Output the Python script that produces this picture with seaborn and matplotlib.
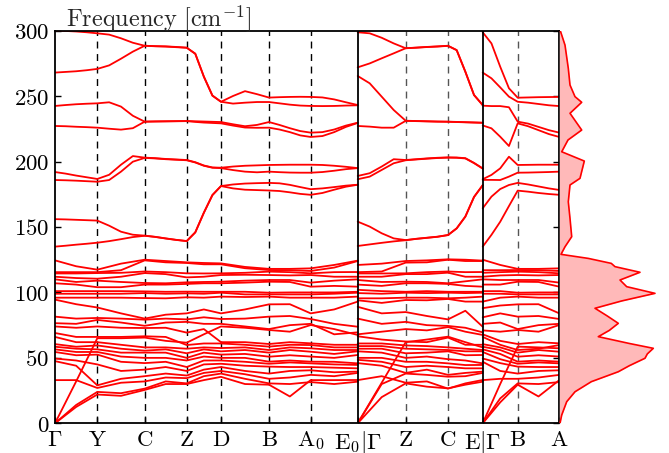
import numpy as np
import pandas as pd
import matplotlib
matplotlib.use("Agg")
import matplotlib.pyplot as plt
import seaborn as sns

# ---------------- k-path (high-symmetry positions) ----------------
kpts_p1 = [0.0, 42.3, 89.7, 131.7, 166.0, 214.0, 255.7, 302.7]   # G Y C Z D B A0 E0
kpts_p2 = [302.7, 350.7, 393.0, 427.7]                            # G Z C E
kpts_p3 = [427.7, 462.7, 504.3]                                   # G B A
tick_pos = [0.0, 42.3, 89.7, 131.7, 166.0, 214.0, 255.7, 302.7,
            350.7, 393.0, 427.7, 462.7, 504.3]
tick_labels = [r"$\Gamma$", r"$\mathrm{Y}$", r"$\mathrm{C}$", r"$\mathrm{Z}$",
               r"$\mathrm{D}$", r"$\mathrm{B}$", r"$\mathrm{A}_0$",
               r"$\mathrm{E}_0|\Gamma\;$", r"$\mathrm{Z}$", r"$\mathrm{C}$",
               r"$\mathrm{E}|\Gamma$", r"$\mathrm{B}$", r"$\mathrm{A}$"]
ytick_vals = [0, 50, 100, 150, 200, 250, 300]

# ---------------- low-frequency bands (points & segment midpoints) ----------------
# panel 1 : G, G-Y, Y, Y-C, C, C-Z, Z, Z-D, D, D-B, B, B-A0, A0, A0-E0, E0
G1  = [0, 0, 0, 33, 47.5, 49.5, 54.5, 56.5, 58.5, 60.5, 66, 69, 74, 76.5, 81.5, 94.5, 96, 99, 101, 107, 110, 112, 114.5, 115.5, 124.5]
GY1 = [12.5, 14, 32, 33, 44, 48, 52, 54.5, 57, 58.5, 62, 66, 73, 76, 80, 91, 96, 99, 101, 106, 108, 111, 114.5, 115.5, 120]
Y1  = [22, 24, 65, 27, 29, 45, 52.5, 54.5, 56.5, 59.5, 62, 66, 74, 79, 80.5, 88.5, 96, 99, 101, 104, 109, 110.5, 114.8, 115.5, 117.4]
YC1 = [21, 23, 65, 31, 34, 40, 47, 51, 54, 57, 60, 66, 73, 77, 80, 84, 96, 99, 101, 104, 108, 112, 115, 117, 122]
C1  = [25.5, 26.5, 65.5, 32, 36, 41, 46, 50, 54, 55.5, 58, 66.5, 72.8, 74.5, 79.2, 80, 95.7, 99.5, 100.8, 106, 107.2, 114.8, 116, 124.5, 125]
CZ1 = [30, 32, 63, 35, 38, 43, 47, 50, 54, 56.5, 58, 66, 73, 77, 80, 83, 95.5, 99, 100.5, 106, 107, 114, 115.5, 123, 124]
Z1  = [30, 30.5, 61.6, 34.5, 36.5, 40, 43, 48, 50, 53.5, 57, 59.8, 69.3, 77.5, 79.4, 84, 96.3, 99.3, 100.6, 106.5, 107.7, 111.5, 114.6, 122.5, 123]
ZD1 = [33, 36, 68, 38.5, 41, 45, 48, 51, 54, 56.5, 58, 61, 72, 76, 81, 87, 96, 99, 100.5, 107, 108, 112, 114.5, 121.5, 122.5]
D1  = [35.5, 38, 74, 40, 43, 45.5, 48, 50, 52.5, 55, 57.5, 61, 62, 76, 79.7, 84, 96.8, 99.8, 100.5, 107, 108.2, 113.3, 114.6, 121.5, 122.2]
DB1 = [30, 34, 73, 37.5, 40, 44, 47, 50, 53, 56, 58, 60, 62, 74, 80, 87, 96.5, 98.5, 100.5, 107.5, 109, 113.5, 115, 118.5, 119.5]
B1  = [29.5, 30.5, 71.3, 34, 38, 43.3, 45.5, 47.1, 50.9, 54, 56, 58.6, 60.6, 72, 81.5, 90.9, 96.8, 98.5, 99.8, 108.2, 109.5, 113.3, 115.9, 117.1, 118]
BA1 = [20.5, 30, 70, 35, 40, 43, 46.5, 48, 52, 56, 58, 60, 62, 75, 82, 91, 96, 98.5, 100, 108, 109.5, 113, 115.5, 117, 118]
A01 = [33, 31.5, 75.1, 37, 40.5, 43, 45.8, 47.1, 51, 54.7, 57.3, 59.8, 61.1, 76, 79.7, 84, 96, 98.5, 100, 104.4, 107.5, 113.3, 114.6, 116.4, 118.4]
AE1 = [33, 30, 72, 36, 39, 42.5, 45, 47, 50, 53, 56, 58, 60, 68, 76, 87, 96, 99, 100, 105, 109, 112, 115.5, 119, 121]
E01 = [33.1, 31.8, 67.5, 38.5, 39.5, 42, 44.6, 45.8, 52.2, 55, 56, 58, 60, 69.5, 73.8, 93, 96.8, 99.8, 100.5, 104.4, 110, 112, 115.6, 124, 124.3]
# panel 2 : G, G-Z, Z, Z-C, C, C-E, E
G2  = [0, 0, 0, 33, 46, 48.5, 50, 55, 57, 59, 61, 66.5, 68, 80, 89, 94, 95.5, 99.5, 102, 106, 109.5, 112, 114.5, 115.5, 121]
GZ2 = [20, 30, 31, 36, 44, 47, 50, 54, 57, 59, 61, 64, 70, 76, 84, 92, 95.5, 99, 101, 105, 108, 112, 114.5, 116, 122]
Z2  = [30.5, 38, 62, 31, 38.5, 43, 47, 50, 53.5, 57, 59.5, 62.5, 72, 77.5, 85, 94.2, 96, 99.8, 100.5, 107, 108.2, 114, 114.6, 122.8, 124]
ZC2 = [28, 37, 64, 32, 41, 44, 47, 51, 54, 56.5, 59, 62, 71, 75, 82, 94, 96, 99.5, 101, 107, 108, 114, 115.5, 123, 124.5]
C2  = [26.7, 35.6, 66.2, 26.5, 37, 43, 45.8, 49, 55, 56, 58, 65.5, 73.5, 74.4, 79.4, 95, 95.5, 99.8, 100.5, 106.5, 107, 115.1, 116, 125, 125.3]
CE2 = [29.5, 36, 62, 30.5, 38.5, 42, 44.5, 48, 52, 55, 57, 60, 70, 73, 86, 93, 96, 99.5, 100.5, 105, 108.5, 112, 115.5, 124, 125]
E2  = [31.8, 38.5, 58, 33.1, 39.5, 42, 44.6, 45.8, 52.2, 55, 56, 60, 67.5, 69.5, 73.8, 93, 96.8, 99.8, 100.5, 104.4, 110, 112, 115.6, 124, 124.3]
# panel 3 : G, G-B, B, B-A, A
G3  = [0, 0, 0, 33, 47, 49.5, 54.5, 56.5, 58.5, 60.5, 66, 68, 71, 76, 81, 88, 93, 99, 101, 106, 110, 112, 115, 117, 125]
GB3 = [16, 19, 30, 34, 40, 46, 49, 53, 56, 58, 60, 63, 70, 77, 84, 90, 96, 99, 101, 106, 109.5, 113, 115.5, 117, 121]
B3  = [29.5, 30.5, 58.6, 34, 38, 43.3, 45.5, 47.1, 50.9, 54, 56, 60.6, 71.3, 72, 81.5, 90.9, 96.8, 98.5, 99.8, 108.2, 109.5, 113.3, 115.9, 117.1, 118]
BA3 = [20.5, 30, 58, 35, 40, 43, 46.5, 48, 52, 56, 57, 62, 70, 75, 82, 91, 96, 98.5, 100, 108, 109.5, 113, 115.5, 117, 118]
A3  = [33, 31.5, 57.3, 37, 40.5, 43, 45.8, 47.1, 51, 54.7, 59.8, 61.1, 75.1, 76, 79.7, 84, 96, 98.5, 100, 104.4, 107.5, 113.3, 114.6, 116.4, 118.4]

# ---------------- high-frequency bands (points & quarter points) ----------------
H1_p1 = [300, 299.8, 299.4, 298.8, 298, 297, 294.2, 290.8, 288.5, 288.2, 288, 287.6, 287, 282.5, 265, 250.5, 245.7, 250.1, 253.8, 251.5, 248.9, 249.2, 249.4, 249.5, 249.4, 249, 247.5, 245.3, 243.2]
H2_p1 = [268, 268.5, 269, 269.8, 270.8, 273.5, 278.6, 284, 288.5, 288.1, 287.9, 287.4, 287, 282.3, 264.8, 250.3, 245.7, 244.3, 245, 245.5, 245.5, 244.5, 243.5, 242.8, 242.5, 242.4, 242.5, 242.8, 243]
H3_p1 = [242.5, 243.2, 243.8, 244.2, 244.5, 245.3, 242, 235, 230.5, 230.7, 230.8, 230.9, 231, 230.8, 230.6, 230.4, 230.2, 228.5, 227, 228, 230.2, 228, 225.5, 223.3, 222.1, 222.5, 224.5, 227.5, 229.7]
H4_p1 = [227.2, 227, 226.6, 226.3, 225.9, 225.1, 224.4, 225.5, 230.5, 230.6, 230.7, 230.8, 230.9, 230.3, 229.8, 229.5, 229.2, 227.5, 226, 225.8, 225.9, 224.5, 222.5, 220, 218.8, 219.5, 222.5, 226.5, 229.5]
H5_p1 = [192, 190.8, 189.3, 188, 186.7, 189.9, 197.6, 204.2, 203, 202.6, 202, 201.6, 201.2, 199.5, 197, 195.5, 195.3, 196.2, 196.8, 197.1, 197.4, 197.5, 197.6, 197.6, 197.6, 197.4, 196.8, 196, 195]
H6_p1 = [185.9, 185.7, 185.4, 185, 184.6, 185.9, 192.3, 199.9, 202.8, 202.4, 201.8, 201.4, 201, 199.3, 196.8, 195.3, 195, 193.5, 192.3, 191.8, 192.3, 191.9, 191.6, 191.5, 191.5, 192, 193, 194.2, 195]
H7_p1 = [156, 155.8, 155.5, 155.2, 154.9, 151, 146.4, 144.1, 143.4, 142.5, 141.3, 140.2, 139.3, 146, 161, 174.5, 181.3, 182.5, 183.2, 183.5, 183.7, 183.4, 182.2, 180.5, 178.9, 179.5, 180.5, 181.6, 182.3]
H8_p1 = [135, 135.7, 136.5, 137.2, 138, 139.2, 140.7, 142.3, 143.3, 142.4, 141.2, 140.1, 139.2, 145.8, 160.8, 174.3, 181.3, 179.5, 178.5, 178.2, 177.9, 177.5, 176.5, 175.3, 174.6, 176, 178.5, 180.8, 182.3]

H1_p2 = [298.8, 298, 294.6, 290.3, 286.6, 287.1, 287.6, 288, 288.5, 285.2, 268.7, 250.9, 243.2]
H2_p2 = [272, 275, 278.9, 282.7, 286.6, 287, 287.5, 287.9, 288.4, 285.1, 268.6, 250.8, 243.1]
H3_p2 = [265.4, 259.8, 249.6, 239.4, 231.2, 231, 230.8, 230.6, 230.5, 230.3, 230.1, 229.9, 229.7]
H4_p2 = [227.2, 226.7, 225.9, 225.9, 231.1, 230.9, 230.7, 230.5, 230.4, 230.2, 230, 229.8, 229.6]
H5_p2 = [189, 191.1, 196.2, 201.8, 201.2, 201.8, 202.4, 202.9, 203.2, 203.1, 202.6, 199, 194.8]
H6_p2 = [186.5, 188.5, 193.6, 198.7, 201, 201.6, 202.2, 202.7, 203, 202.9, 202.4, 198.8, 194.6]
H7_p2 = [154.1, 150.3, 145.2, 141.3, 140, 141, 141.8, 142.6, 143.9, 149, 158, 173, 182]
H8_p2 = [135.5, 136.7, 137.9, 139, 139.9, 140.9, 141.7, 142.5, 143.8, 148.9, 157.9, 172.9, 181.9]

H1_p3 = [298.8, 290.3, 272.5, 256, 248.8, 249, 249.2, 249.3, 249.4]
H2_p3 = [268, 263.6, 256.7, 249.6, 245.7, 245, 244, 243, 242.4]
H3_p3 = [242.7, 242.4, 242.4, 241.5, 230.5, 229, 226.5, 224, 222.1]
H4_p3 = [227.6, 225.4, 219, 211.9, 229.2, 227, 224, 221, 218.8]
H5_p3 = [186.5, 189.8, 194.8, 203.7, 197.4, 197.5, 197.6, 197.6, 197.6]
H6_p3 = [186, 186, 185.9, 188.5, 191.5, 191.6, 191.8, 192, 192.3]
H7_p3 = [164.3, 173.2, 179, 182.1, 183.7, 182.5, 181, 179.5, 178.3]
H8_p3 = [135, 144, 154, 166, 177.8, 177, 176, 175.2, 174.6]

# ---------------- phonon DOS ----------------
dos_freq = [0, 6.3, 16.5, 24.1, 31.8, 39.4, 44, 49.7, 53, 57.3, 61, 66.2, 71, 76.4, 82, 87.9, 93.5,
            99.3, 104.4, 109.5, 115.4, 119.7, 122.2, 126, 129.1, 134.9, 142.6, 156.6, 169.3,
            182.1, 187.2, 200.4, 207.5, 216.5, 224.1, 236.9, 245.3, 249.6, 258.5, 271.2, 289, 300]
dos_val = [0.7, 2.4, 7.4, 15.7, 32, 59, 70, 85.7, 88, 94, 70, 39, 50, 59, 48, 35.7, 62.4,
           95.7, 67.4, 60.7, 80.7, 55.7, 52, 29, 1.7, 5.7, 12.4, 10.7, 9,
           10.7, 20.7, 25, 2.4, 8.7, 22.4, 10.7, 22.4, 15.7, 10.7, 9, 5.7, 1]


def subdivide(kp, n):
    pts = [kp[0]]
    for a, b in zip(kp[:-1], kp[1:]):
        pts += list(np.linspace(a, b, n + 1)[1:])
    return np.array(pts)


low_panels = [
    (kpts_p1, [G1, GY1, Y1, YC1, C1, CZ1, Z1, ZD1, D1, DB1, B1, BA1, A01, AE1, E01]),
    (kpts_p2, [G2, GZ2, Z2, ZC2, C2, CE2, E2]),
    (kpts_p3, [G3, GB3, B3, BA3, A3]),
]
high_panels = [
    (kpts_p1, [H1_p1, H2_p1, H3_p1, H4_p1, H5_p1, H6_p1, H7_p1, H8_p1]),
    (kpts_p2, [H1_p2, H2_p2, H3_p2, H4_p2, H5_p2, H6_p2, H7_p2, H8_p2]),
    (kpts_p3, [H1_p3, H2_p3, H3_p3, H4_p3, H5_p3, H6_p3, H7_p3, H8_p3]),
]

rows = []
for p, (kp, cols) in enumerate(low_panels):
    kg = subdivide(kp, 2)
    arr = np.array(cols, dtype=float)  # (npoints, nbands)
    for j in range(arr.shape[1]):
        for k, f in zip(kg, arr[:, j]):
            rows.append((f"p{p}-low{j}", k, f))
for p, (kp, bands) in enumerate(high_panels):
    kg = subdivide(kp, 4)
    for j, b in enumerate(bands):
        for k, f in zip(kg, b):
            rows.append((f"p{p}-high{j}", k, f))
df = pd.DataFrame(rows, columns=["line", "k", "freq"])

# ---------------- styling ----------------
sns.set_theme(style="ticks")
plt.rcParams.update({
    "mathtext.fontset": "cm",
    "font.family": ["DejaVu Serif"],
    "axes.linewidth": 1.3,
    "xtick.direction": "in",
    "ytick.direction": "in",
    "xtick.major.size": 4,
    "ytick.major.size": 4,
    "xtick.major.width": 1.0,
    "ytick.major.width": 1.0,
    "xtick.color": "black",
    "ytick.color": "black",
    "axes.edgecolor": "black",
})

W, H = 669, 453
fig = plt.figure(figsize=(W / 100, H / 100), dpi=100)
left, right, bottom, top = 55, 559.3, 423.3, 30.7
ax = fig.add_axes([left / W, (H - bottom) / H, (right - left) / W, (bottom - top) / H])
ax_d = fig.add_axes([right / W, (H - bottom) / H, 100 / W, (bottom - top) / H])

sns.lineplot(data=df, x="k", y="freq", units="line", estimator=None, sort=False,
             color="red", linewidth=1.3, ax=ax, legend=False)

for x in tick_pos[1:7]:
    ax.axvline(x, color="black", lw=1.0, ls=(0, (5, 4)), zorder=0)
for x in [350.7, 393.0, 462.7]:
    ax.axvline(x, color="#555555", lw=1.0, ls=(0, (5, 4)), zorder=0)
for x in [302.7, 427.7]:
    ax.axvline(x, color="black", lw=1.3, zorder=3)

ax.set_xlim(0, 504.3)
ax.set_ylim(0, 300)
ax.set_xticks(tick_pos)
ax.set_xticklabels(tick_labels, fontsize=16.5)
ax.set_yticks(ytick_vals)
ax.set_yticklabels([rf"$\mathrm{{{v}}}$" for v in ytick_vals], fontsize=16.5)
ax.tick_params(axis="y", right=True, left=True, pad=4)
ax.tick_params(axis="x", pad=4)
ax.set_xlabel("")
ax.set_ylabel("")
ax.text(0.022, 1.009, r"$\mathrm{Frequency\ [cm^{-1}]}$", transform=ax.transAxes,
        ha="left", va="baseline", fontsize=17.5)

ax_d.fill_betweenx(dos_freq, 0, dos_val, color="#ffb9b9", lw=0)
sns.lineplot(x=dos_val, y=dos_freq, orient="y", sort=False, estimator=None,
             color="red", linewidth=1.2, ax=ax_d)
ax_d.set_xlim(0, 100)
ax_d.set_ylim(0, 300)
ax_d.axis("off")

fig.savefig("out.png", dpi=100)
